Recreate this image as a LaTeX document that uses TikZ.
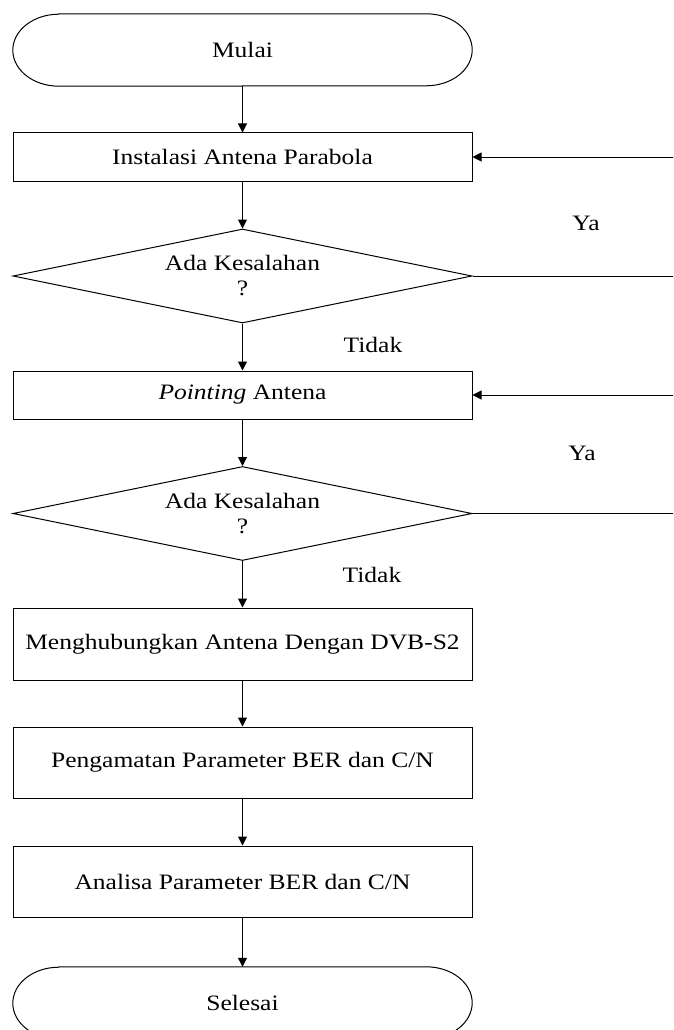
\documentclass[tikz,border=0pt]{standalone}
\usepackage{fontspec}
\setmainfont{Liberation Serif}[FakeStretch=1.16]
\usetikzlibrary{shapes.geometric,arrows.meta}
\begin{document}
\begin{tikzpicture}[x=1pt,y=1pt,
  every node/.style={font=\fontsize{22}{25}\selectfont},
  procbox/.style={draw, rectangle, minimum width=459pt, inner sep=0pt, line width=1pt},
  decbox/.style={draw, diamond, aspect=4.9, minimum width=459pt, minimum height=94pt, inner sep=0pt, align=center, line width=1pt},
  termbox/.style={rectangle, minimum width=459pt, minimum height=72pt, inner sep=0pt},
  termline/.style={line width=1pt},
  flow/.style={-{Triangle[length=9pt,width=9pt]}, line width=1pt},
  lbl/.style={inner sep=0pt}
]
\useasboundingbox (0,0) rectangle (673,-1030);
\clip (0,0) rectangle (673,-1030);

\node[termbox] (mulai) at (242.5,-50) {Mulai};
\draw[termline] ([xshift=46pt]mulai.north west) -- ([xshift=-46pt]mulai.north east)
  arc[start angle=90,end angle=-90,x radius=46pt,y radius=36pt]
  -- ([xshift=46pt]mulai.south west)
  arc[start angle=270,end angle=90,x radius=46pt,y radius=36pt] -- cycle;

\node[procbox, minimum height=48pt] (inst) at (242.5,-157) {Instalasi Antena Parabola};
\node[decbox] (d1) at (242.5,-276) {Ada Kesalahan\\?};
\node[procbox, minimum height=48pt] (point) at (242.5,-395) {\textit{Pointing} Antena};
\node[decbox] (d2) at (242.5,-513.5) {Ada Kesalahan\\?};
\node[procbox, minimum height=72pt] (hub) at (242.5,-644) {Menghubungkan Antena Dengan DVB-S2};
\node[procbox, minimum height=71pt] (peng) at (242.5,-762.5) {Pengamatan Parameter BER dan C/N};
\node[procbox, minimum height=71pt] (anal) at (242.5,-881.5) {Analisa Parameter BER dan C/N};

\node[termbox] (selesai) at (242.5,-1003) {Selesai};
\draw[termline] ([xshift=46pt]selesai.north west) -- ([xshift=-46pt]selesai.north east)
  arc[start angle=90,end angle=-90,x radius=46pt,y radius=36pt]
  -- ([xshift=46pt]selesai.south west)
  arc[start angle=270,end angle=90,x radius=46pt,y radius=36pt] -- cycle;

\draw[flow] (mulai.south) -- (inst.north);
\draw[flow] (inst.south) -- (d1.north);
\draw[flow] (d1.south) -- (point.north);
\draw[flow] (point.south) -- (d2.north);
\draw[flow] (d2.south) -- (hub.north);
\draw[flow] (hub.south) -- (peng.north);
\draw[flow] (peng.south) -- (anal.north);
\draw[flow] (anal.south) -- (selesai.north);

\coordinate (r1) at (700,-276);
\coordinate (r2) at (700,-513.5);
\draw[flow] (d1.east) -- (r1) |- (inst.east);
\draw[flow] (d2.east) -- (r2) |- (point.east);

\node[lbl] (ya1) at (586,-223) {Ya};
\node[lbl] (tidak1) at (373,-345) {Tidak};
\node[lbl] (ya2) at (582,-453) {Ya};
\node[lbl] (tidak2) at (372,-575) {Tidak};
\end{tikzpicture}
\end{document}
